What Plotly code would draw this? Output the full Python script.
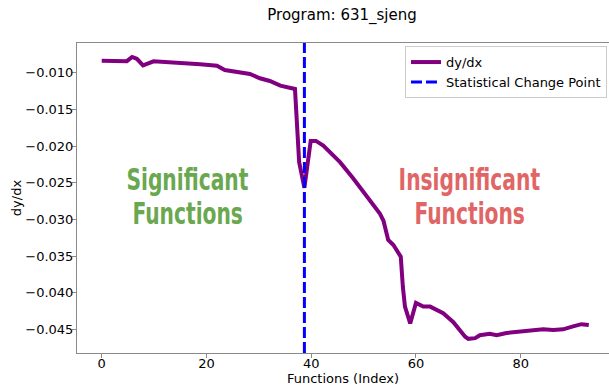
import plotly.graph_objects as go

# ---- data -------------------------------------------------------------
program_name = "631_sjeng"

# function index (x) and slope of the sorted curve (dy/dx)
func_index = [0, 4.8, 5.8, 6.7, 7.9, 9.9, 18.8, 22.0, 23.5, 25.8, 28.3, 30.2,
              32.1, 34.1, 35.6, 36.9, 37.7, 38.7, 39.9, 40.9, 42.3, 44.2,
              45.5, 48.0, 49.9, 51.6, 52.5, 53.1, 53.8, 54.7, 55.7, 56.6,
              57.1, 57.5, 57.9, 58.9, 60.0, 61.4, 62.7, 65.2, 67.1, 69.4,
              70.0, 71.3, 72.2, 74.1, 75.4, 77.3, 79.9, 82.4, 84.3, 86.2,
              88.1, 90.0, 91.6, 93.0]
dydx = [-0.00836, -0.00843, -0.00786, -0.00810, -0.00900, -0.00845, -0.00885,
        -0.00905, -0.00963, -0.00986, -0.01018, -0.01076, -0.01113, -0.01177,
        -0.01205, -0.01222, -0.02220, -0.02570, -0.01930, -0.01930, -0.01995,
        -0.02120, -0.02220, -0.02440, -0.02620, -0.02800, -0.02870, -0.02920,
        -0.03020, -0.03280, -0.03350, -0.03440, -0.03510, -0.03920, -0.04190,
        -0.04420, -0.04140, -0.04190, -0.04190, -0.04280, -0.04400, -0.04600,
        -0.04630, -0.04620, -0.04580, -0.04560, -0.04580, -0.04550, -0.04530,
        -0.04510, -0.04500, -0.04510, -0.04500, -0.04460, -0.04430, -0.04440]

change_point = 38.7

x_ticks = [0, 20, 40, 60, 80]
y_ticks = [-0.045, -0.040, -0.035, -0.030, -0.025, -0.020, -0.015, -0.010]
y_tick_labels = ["\u22120.045", "\u22120.040", "\u22120.035", "\u22120.030",
                 "\u22120.025", "\u22120.020", "\u22120.015", "\u22120.010"]

significant_lines = ["Significant", "Functions"]
insignificant_lines = ["Insignificant", "Functions"]

# ---- styling ----------------------------------------------------------
x_range = [-4.72, 96.86]
y_range = [-0.04823, -0.00595]
axis_color = "#8a8a8a"
base_font = "DejaVu Sans"
label_font = "DejaVu Sans Condensed, DejaVu Sans, sans-serif"

fig = go.Figure()

fig.add_trace(go.Scatter(
    x=func_index, y=dydx, mode="lines", name="dy/dx",
    line=dict(color="purple", width=4),
))

fig.add_shape(
    type="line", xref="x", yref="paper",
    x0=change_point, x1=change_point, y0=0, y1=1,
    line=dict(color="blue", width=3, dash="11px,4px"),
    showlegend=True, name="Statistical Change Point", layer="above",
)

# region labels on either side of the change point
label_rows_y = [-0.0245, -0.0292]
for text, yv in zip(significant_lines, label_rows_y):
    fig.add_annotation(x=16.3, y=yv, text=text, showarrow=False,
                       xanchor="center", yanchor="middle",
                       font=dict(family=label_font, size=30, color="#6aa84f",
                                 weight="bold"))
for text, yv in zip(insignificant_lines, label_rows_y):
    fig.add_annotation(x=70.2, y=yv, text=text, showarrow=False,
                       xanchor="center", yanchor="middle",
                       font=dict(family=label_font, size=30, color="#e06666",
                                 weight="bold"))

fig.update_layout(
    width=609, height=386,
    margin=dict(l=77, r=0, t=43, b=33, autoexpand=False),
    paper_bgcolor="white", plot_bgcolor="white",
    font=dict(family=base_font, size=13, color="black"),
    title=dict(text="Program: " + program_name, x=0.5616, xref="container",
               xanchor="center", y=0.961, yref="container", yanchor="middle",
               font=dict(family=base_font, size=15, color="black")),
    showlegend=True,
    legend=dict(x=0.9962, y=0.99, xanchor="right", yanchor="top",
                bgcolor="rgba(255,255,255,0.8)", bordercolor="#cccccc",
                borderwidth=1, font=dict(family=base_font, size=13)),
    xaxis=dict(range=x_range, tickvals=x_ticks, showgrid=False, zeroline=False,
               showline=True, linecolor=axis_color, linewidth=1, mirror=True,
               ticks="outside", ticklen=4, tickcolor=axis_color,
               ticklabelstandoff=-6,
               tickfont=dict(family=base_font, size=13, color="black"),
               title=dict(text="Functions (Index)", standoff=8,
                          font=dict(family=base_font, size=13)),
               automargin=False),
    yaxis=dict(range=y_range, tickvals=y_ticks, ticktext=y_tick_labels,
               showgrid=False, zeroline=False, showline=True,
               linecolor=axis_color, linewidth=1, mirror=False,
               ticks="outside", ticklen=4, tickcolor=axis_color,
               ticklabelstandoff=-4,
               tickfont=dict(family=base_font, size=13, color="black"),
               title=dict(text="dy/dx", standoff=0,
                          font=dict(family=base_font, size=13)),
               automargin=False),
)

# narrow the bold region labels horizontally (condensed display style)
condense_labels = """
var st = document.createElement('style');
st.textContent = '.annotation-text{transform-box:fill-box;' +
                 'transform-origin:center;transform:scaleX(0.75);}';
document.head.appendChild(st);
"""

fig.write_html("out.html", post_script=condense_labels)
